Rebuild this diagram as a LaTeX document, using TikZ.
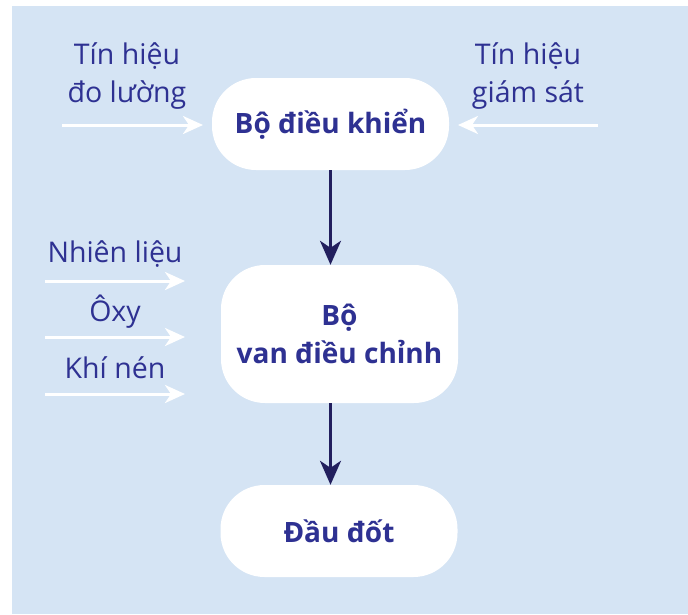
\documentclass[tikz,border=0pt]{standalone}
\usepackage{fontspec}
\setmainfont{Open Sans}
\usetikzlibrary{arrows.meta}
\definecolor{bgblue}{HTML}{D5E4F4}
\definecolor{txtblue}{HTML}{2E3192}
\definecolor{arrowblue}{HTML}{221F5E}
\tikzset{
  box/.style={fill=white, draw=none, rounded corners=44pt, text=txtblue,
    font=\fontsize{28}{38}\selectfont\bfseries, align=center,
    minimum width=237pt, inner sep=0pt},
  lbl/.style={text=txtblue, font=\fontsize{28.5}{38}\selectfont, align=center, inner sep=0pt},
  inarrow/.style={draw=white, line width=3pt,
    -{Stealth[length=20pt,width=18pt,inset=6pt,fill=white]}},
  flowarrow/.style={draw=arrowblue, line width=3pt,
    -{Stealth[length=24pt,width=21pt,inset=7pt,fill=arrowblue]}}
}
\begin{document}
\begin{tikzpicture}[x=1pt,y=-1pt]
  \useasboundingbox (0,0) rectangle (688,614);
  \fill[bgblue] (12,6) rectangle (688,614);

  % flow boxes
  \node[box, minimum height=92pt]  (ctrl)   at (330.5,124) {Bộ điều khiển};
  \node[box, minimum height=138pt] (valves) at (339.5,334) {Bộ\\van điều chỉnh};
  \node[box, minimum height=92pt]  (burner) at (339,531)   {Đầu đốt};

  % main flow
  \draw[flowarrow] (ctrl.south) -- (ctrl.south |- valves.north);
  \draw[flowarrow] (ctrl.south |- valves.south) -- (ctrl.south |- burner.north);

  % signals into the controller
  \node[lbl] (meas) at (127,76) {Tín hiệu\\đo lường};
  \node[lbl] (sup)  at (528,76) {Tín hiệu\\giám sát};
  \coordinate (measS) at (62,125);
  \coordinate (measE) at (203,125);
  \coordinate (supS)  at (598,125);
  \coordinate (supE)  at (458,125);
  \draw[inarrow] (measS) -- (measE);
  \draw[inarrow] (supS) -- (supE);

  % supplies into the valve set
  \node[lbl] (fuel) at (115,254) {Nhiên liệu};
  \node[lbl] (oxy)  at (115,312) {Ôxy};
  \node[lbl] (air)  at (115,368) {Khí nén};
  \coordinate (fuelS) at (45,281);
  \coordinate (fuelE) at (185,281);
  \coordinate (oxyS)  at (45,337);
  \coordinate (oxyE)  at (185,337);
  \coordinate (airS)  at (45,394);
  \coordinate (airE)  at (185,394);
  \draw[inarrow] (fuelS) -- (fuelE);
  \draw[inarrow] (oxyS) -- (oxyE);
  \draw[inarrow] (airS) -- (airE);
\end{tikzpicture}
\end{document}
